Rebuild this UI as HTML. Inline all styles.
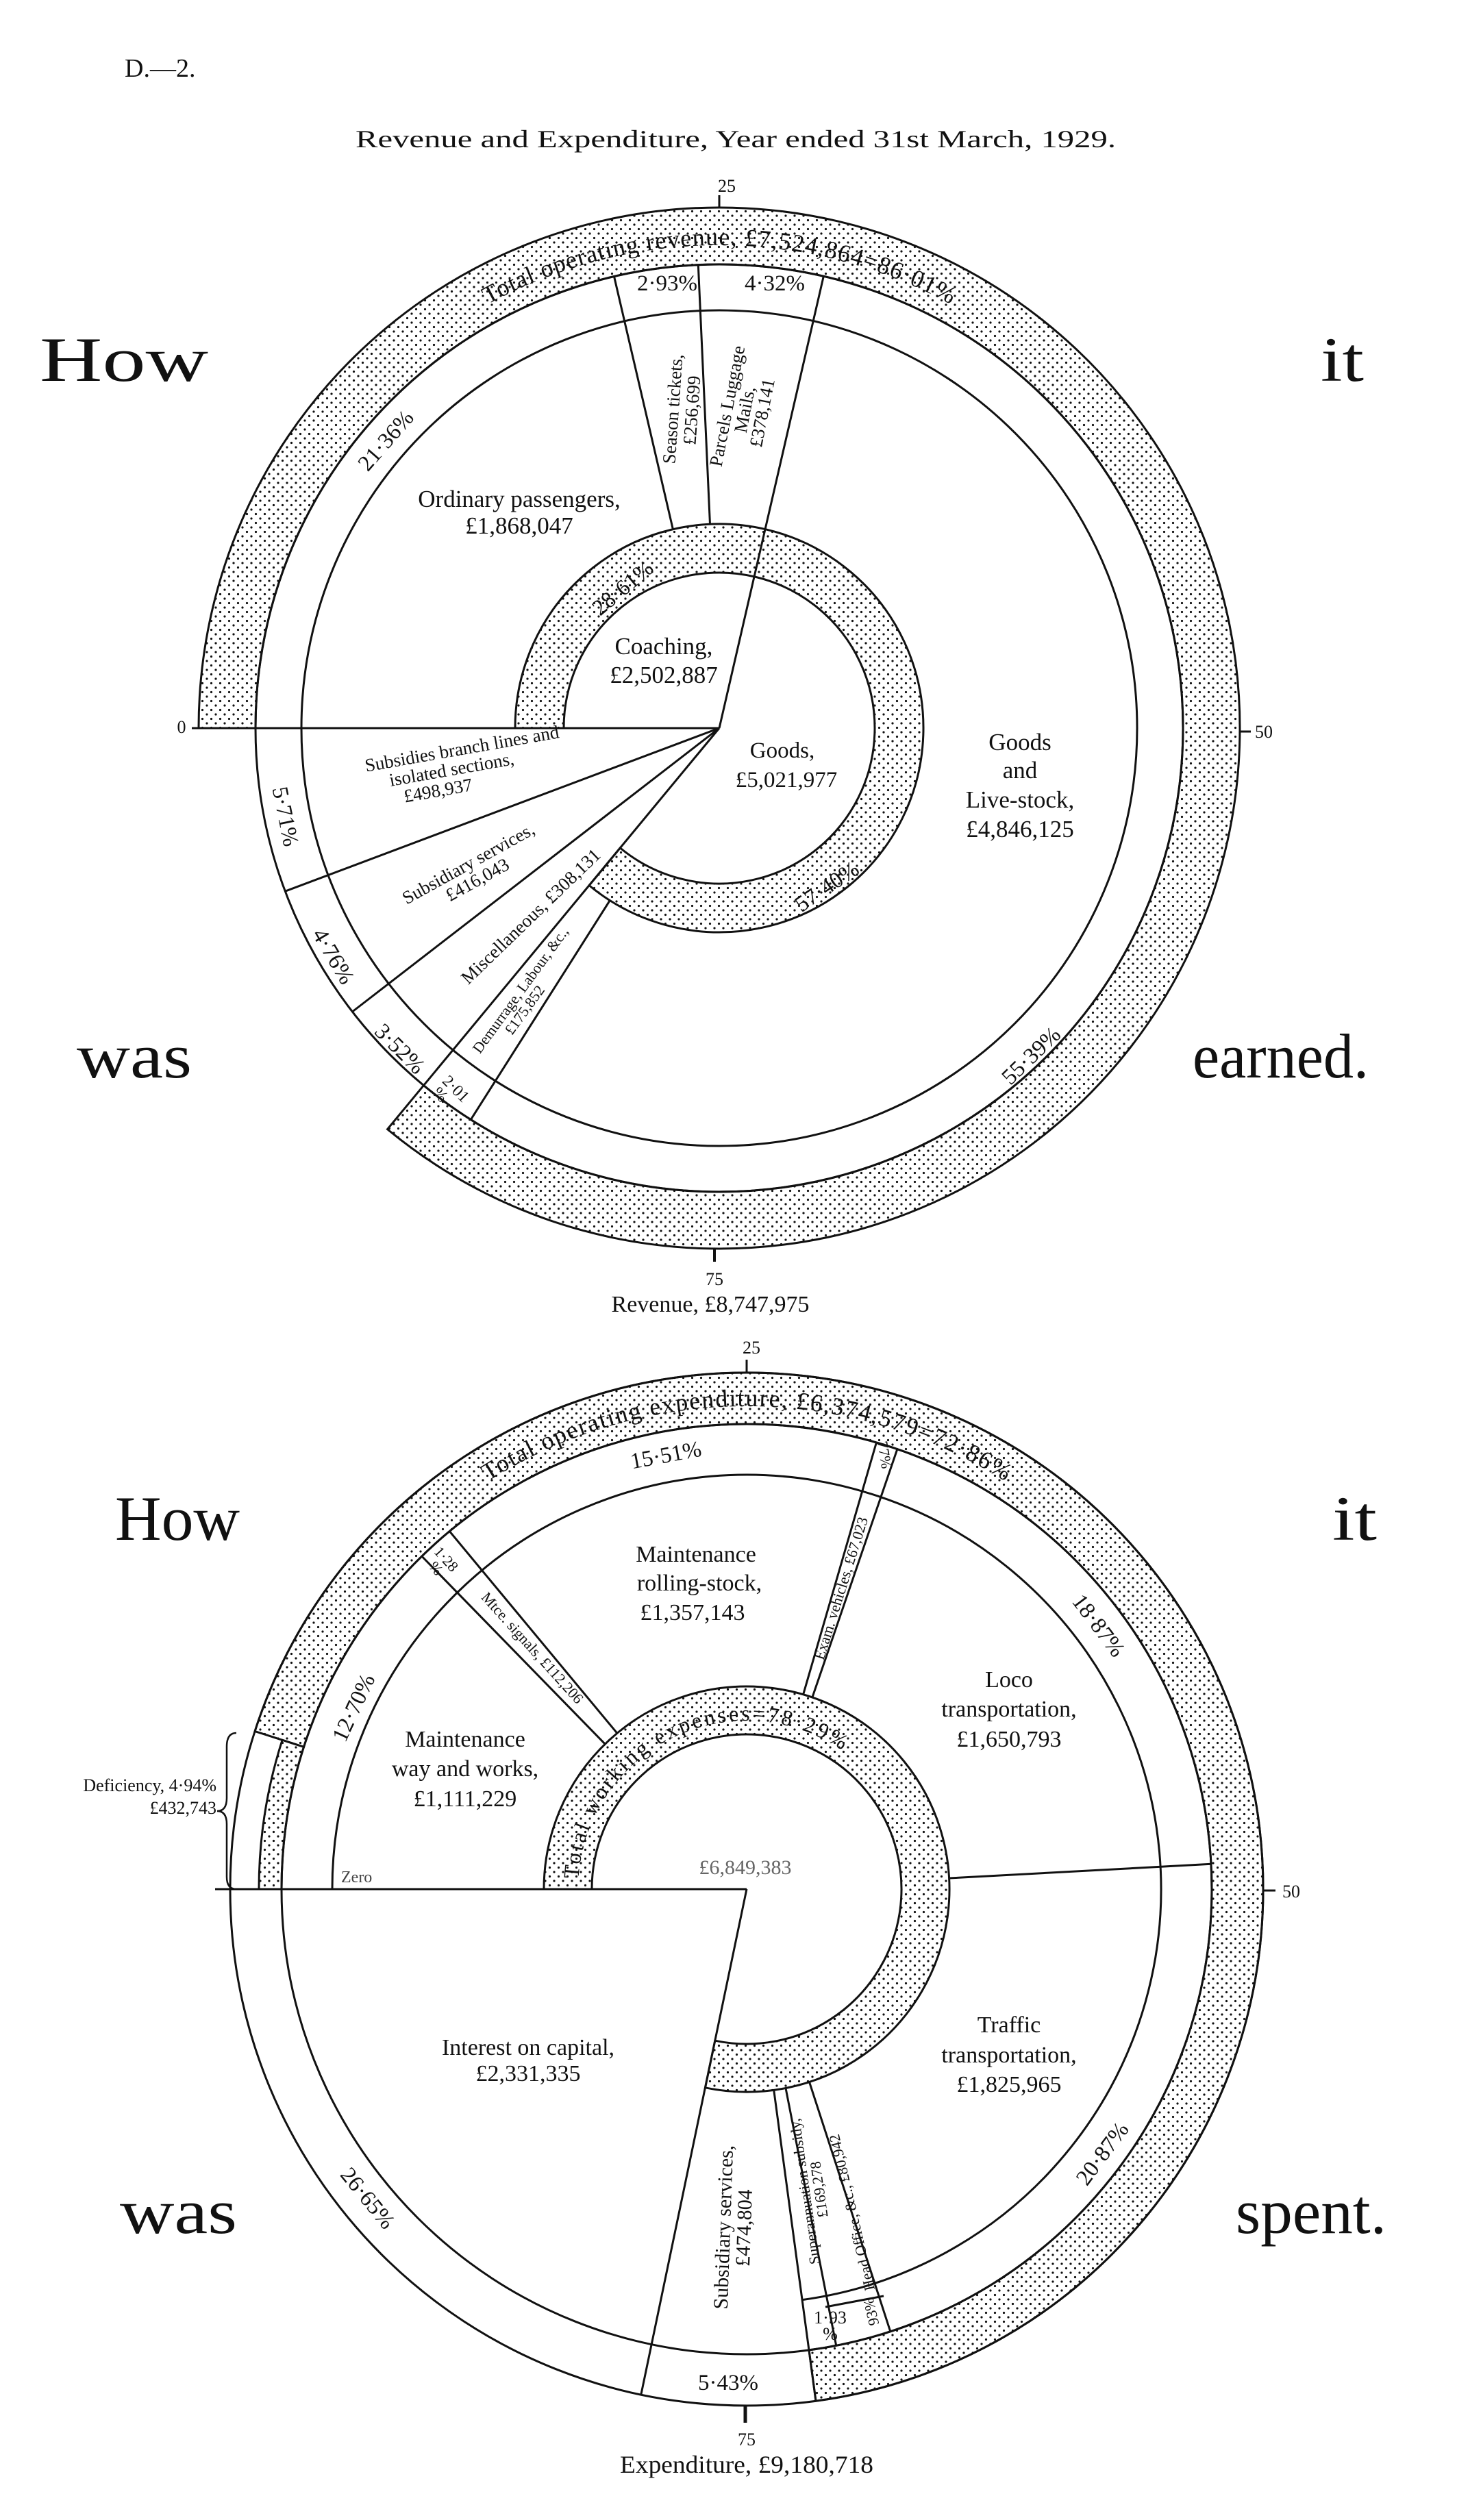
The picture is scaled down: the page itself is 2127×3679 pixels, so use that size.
<!DOCTYPE html>
<html><head><meta charset="utf-8"><style>
html,body{margin:0;padding:0;background:#fff;}
svg{display:block;}
text{font-family:"Liberation Serif",serif;fill:#111;}
</style></head><body>
<svg width="2127" height="3679" viewBox="0 0 2127 3679" xmlns="http://www.w3.org/2000/svg">
<defs>
<pattern id="dots" width="13" height="13" patternUnits="userSpaceOnUse">
<rect width="13" height="13" fill="#fff"/>
<circle cx="3" cy="3" r="1.6" fill="#111"/>
<circle cx="9.5" cy="9.5" r="1.6" fill="#111"/>
</pattern>
<path id="tp1" d="M387.5,821.9 A705,705 0 0 1 1712.5,821.9"/>
<path id="tp2" d="M427.5,2516.9 A705,705 0 0 1 1752.5,2516.9"/>
<path id="tp3" d="M853.5,2825.8 A246,246 0 0 1 1289,2613.4"/>
</defs>
<rect width="2127" height="3679" fill="#fff"/>

<text x="182" y="112" font-size="38">D.—2.</text>
<text x="519" y="215" font-size="36" textLength="1110" lengthAdjust="spacingAndGlyphs">Revenue and Expenditure, Year ended 31st March, 1929.</text>

<!-- big words -->
<g font-size="92">
<text x="58" y="556" textLength="246" lengthAdjust="spacingAndGlyphs">How</text>
<text x="1928" y="556" textLength="63" lengthAdjust="spacingAndGlyphs">it</text>
<text x="112" y="1573" textLength="168" lengthAdjust="spacingAndGlyphs">was</text>
<text x="1741" y="1573" textLength="257" lengthAdjust="spacingAndGlyphs">earned.</text>
<text x="168" y="2248" textLength="182" lengthAdjust="spacingAndGlyphs">How</text>
<text x="1945" y="2248" textLength="65" lengthAdjust="spacingAndGlyphs">it</text>
<text x="175" y="3260" textLength="171" lengthAdjust="spacingAndGlyphs">was</text>
<text x="1804" y="3260" textLength="220" lengthAdjust="spacingAndGlyphs">spent.</text>
</g>

<!-- ================= TOP CHART ================= -->
<g stroke="#111" stroke-width="3" fill="none">
<path d="M290,1063 A760,760 0 1 1 565.6,1648.6 L618.5,1584.6 A677,677 0 1 0 373,1063 Z" fill="url(#dots)"/>
<path d="M752,1063 A298,298 0 1 1 860.1,1292.6 L905.3,1237.9 A227,227 0 1 0 823,1063 Z" fill="url(#dots)"/>
<circle cx="1050" cy="1063" r="677"/>
<circle cx="1050" cy="1063" r="610"/>
<line x1="280" y1="1063" x2="1050" y2="1063"/>
<line x1="1050" y1="1063" x2="416.3" y2="1301.2"/>
<line x1="1050" y1="1063" x2="514.4" y2="1477"/>
<line x1="1050" y1="1063" x2="618.5" y2="1584.6"/>
<line x1="890.3" y1="1314.6" x2="687.3" y2="1634.6"/>
<line x1="982.4" y1="772.7" x2="896.5" y2="403.6"/>
<line x1="1036.5" y1="765.3" x2="1019.3" y2="386.7"/>
<line x1="1050" y1="1063" x2="1202.3" y2="403.3"/>
<line x1="1050" y1="285" x2="1050" y2="303"/>
<line x1="1810" y1="1068" x2="1826" y2="1068"/>
<line x1="1043" y1="1823" x2="1043" y2="1842" stroke-width="4"/>
</g>
<text font-size="36"><textPath href="#tp1" startOffset="50%" text-anchor="middle" textLength="705" lengthAdjust="spacing">Total operating revenue, £7,524,864=86·01%</textPath></text>
<g font-size="26" text-anchor="middle">
<text x="1061" y="280">25</text>
<text x="265" y="1070">0</text>
<text x="1845" y="1077">50</text>
<text x="1043" y="1876">75</text>
</g>
<text x="1037" y="1915" font-size="34" text-anchor="middle">Revenue, £8,747,975</text>

<g font-size="33" text-anchor="middle">
<text x="974" y="424">2·93%</text>
<text x="1131" y="424">4·32%</text>
<text transform="translate(563,643) rotate(-49)" y="11">21·36%</text>
<text x="758" y="740" font-size="35">Ordinary passengers,</text>
<text x="758" y="779" font-size="35">£1,868,047</text>
<text transform="translate(909,858) rotate(-40)" y="11">28·61%</text>
<text x="969" y="955" font-size="35">Coaching,</text>
<text x="969" y="997" font-size="35">£2,502,887</text>
<text x="1142" y="1106">Goods,</text>
<text x="1148" y="1149">£5,021,977</text>
<text x="1489" y="1095" font-size="35">Goods</text>
<text x="1489" y="1136" font-size="35">and</text>
<text x="1489" y="1179" font-size="35">Live-stock,</text>
<text x="1489" y="1222" font-size="35">£4,846,125</text>
<text transform="translate(1207,1294) rotate(-34)" y="11">57·40%</text>
<text transform="translate(1505,1541) rotate(-44)" y="11">55·39%</text>
<text transform="translate(417,1192) rotate(78.5)" y="11">5·71%</text>
<text transform="translate(487,1396) rotate(59.4)" y="11">4·76%</text>
<text transform="translate(584,1531) rotate(45)" y="11">3·52%</text>
</g>
<g font-size="27" text-anchor="middle">
<text transform="translate(996,598) rotate(-86)"><tspan x="0" y="-5">Season tickets,</tspan><tspan x="0" y="23">£256,699</tspan></text>
<text transform="translate(1088,598) rotate(-79)"><tspan x="0" y="-18">Parcels Luggage</tspan><tspan x="0" y="8">Mails,</tspan><tspan x="0" y="34">£378,141</tspan></text>
<text transform="translate(660,1127) rotate(-10)"><tspan x="20" y="-22">Subsidies branch lines and</tspan><tspan x="0" y="5">isolated sections,</tspan><tspan x="-25" y="32">£498,937</tspan></text>
<text transform="translate(690,1272) rotate(-29)"><tspan x="0" y="-4">Subsidiary services,</tspan><tspan x="0" y="23">£416,043</tspan></text>
<text transform="translate(774,1337) rotate(-44)" y="10">Miscellaneous, £308,131</text>
<text transform="translate(769,1452) rotate(-54)" font-size="22"><tspan x="0" y="-4">Demurrage, Labour, &amp;c.,</tspan><tspan x="-20" y="18">£175,852</tspan></text>
<text transform="translate(660,1595) rotate(45)" font-size="24"><tspan x="0" y="0">2·01</tspan><tspan x="-10" y="22">%</tspan></text>
</g>

<!-- ================= BOTTOM CHART ================= -->
<g stroke="#111" stroke-width="3" fill="none">
<path d="M372.1,2527.5 A754,754 0 1 1 1191,3505.2 L1181,3430.9 A679,679 0 1 0 443.5,2550.4 Z" fill="url(#dots)"/>
<path d="M378,2758 A712,712 0 0 1 412.1,2540.3 L443.5,2550.4 A679,679 0 0 0 411,2758 Z" fill="url(#dots)"/>
<path d="M794,2758 A296,296 0 1 1 1029.5,3047.8 L1043.8,2979.2 A226,226 0 1 0 864,2758 Z" fill="url(#dots)"/>
<circle cx="1090" cy="2758" r="754"/>
<circle cx="1090" cy="2758" r="679"/>
<path d="M485,2758 A605,605 0 1 1 1171.1,3357.6"/>
<line x1="314" y1="2758" x2="1090" y2="2758"/>
<line x1="1090" y1="2758" x2="935.8" y2="3496.1"/>
<line x1="883.3" y1="2546.2" x2="615.8" y2="2272"/>
<line x1="900.9" y1="2530.3" x2="656.3" y2="2235.6"/>
<line x1="1172.6" y1="2473.8" x2="1279.4" y2="2106"/>
<line x1="1185.9" y1="2477.9" x2="1309.9" y2="2115.6"/>
<line x1="1385.6" y1="2742" x2="1768" y2="2721.3"/>
<line x1="1181.5" y1="3039.5" x2="1299.8" y2="3403.8"/>
<line x1="1147" y1="3048.5" x2="1220.7" y2="3424.3"/>
<line x1="1129.7" y1="3051.3" x2="1191" y2="3505.2"/>
<line x1="1205" y1="3368" x2="1290" y2="3352"/>
<line x1="1090" y1="1985" x2="1090" y2="2004"/>
<line x1="1844" y1="2760" x2="1862" y2="2760"/>
<line x1="1088" y1="3512" x2="1088" y2="3537" stroke-width="5"/>
<path d="M345,2530 Q331,2530 331,2550 L331,2625 Q331,2644 317,2644 Q331,2644 331,2663 L331,2740 Q331,2758 345,2758" stroke-width="2.5"/>
</g>
<text font-size="36"><textPath href="#tp2" startOffset="50%" text-anchor="middle" textLength="797" lengthAdjust="spacing">Total operating expenditure, £6,374,579=72·86%</textPath></text>
<text font-size="32"><textPath href="#tp3" startOffset="50%" text-anchor="middle" textLength="520" lengthAdjust="spacing">Total working expenses=78·29%</textPath></text>
<g font-size="26" text-anchor="middle">
<text x="1097" y="1976">25</text>
<text x="1885" y="2770">50</text>
<text x="1090" y="3570">75</text>
</g>
<text x="1090" y="3610" font-size="36" text-anchor="middle" textLength="370" lengthAdjust="spacingAndGlyphs">Expenditure, £9,180,718</text>
<g font-size="26" text-anchor="end">
<text x="316" y="2615">Deficiency, 4·94%</text>
<text x="316" y="2648">£432,743</text>
</g>
<text x="1088" y="2736" font-size="30" text-anchor="middle" fill="#666" style="fill:#666">£6,849,383</text>
<text x="498" y="2748" font-size="24" fill="#333" style="fill:#444">Zero</text>

<g font-size="33" text-anchor="middle">
<text transform="translate(972,2124) rotate(-10.5)" y="11">15·51%</text>
<text transform="translate(516,2493) rotate(-65)" y="11">12·70%</text>
<text transform="translate(1604,2373) rotate(53)" y="11">18·87%</text>
<text transform="translate(1609,3144) rotate(-53.4)" y="11">20·87%</text>
<text transform="translate(537,3209) rotate(50.8)" y="11">26·65%</text>
<text x="1063" y="3489">5·43%</text>
<text x="1016" y="2280" font-size="34">Maintenance</text>
<text x="1021" y="2322" font-size="34">rolling-stock,</text>
<text x="1011" y="2365" font-size="34">£1,357,143</text>
<text x="679" y="2550" font-size="34">Maintenance</text>
<text x="679" y="2593" font-size="34">way and works,</text>
<text x="679" y="2637" font-size="34">£1,111,229</text>
<text x="1473" y="2463" font-size="34">Loco</text>
<text x="1473" y="2506" font-size="34">transportation,</text>
<text x="1473" y="2550" font-size="34">£1,650,793</text>
<text x="771" y="3000" font-size="34">Interest on capital,</text>
<text x="771" y="3038" font-size="34">£2,331,335</text>
<text x="1473" y="2967" font-size="34">Traffic</text>
<text x="1473" y="3011" font-size="34">transportation,</text>
<text x="1473" y="3054" font-size="34">£1,825,965</text>
</g>
<g font-size="22" text-anchor="middle">
<text transform="translate(646,2281) rotate(48)"><tspan x="0" y="0">1·28</tspan><tspan x="0" y="20">%</tspan></text>
<text transform="translate(777,2406) rotate(48)" y="7">Mtce. signals, £112,206</text>
<text transform="translate(1228,2319) rotate(-72.5)" y="7">Exam. vehicles, £67,023</text>
<text transform="translate(1291,2124) rotate(80)" y="7">77%</text>
<text transform="translate(1185,3198) rotate(-98)"><tspan x="0" y="-3">Superannuation subsidy,</tspan><tspan x="0" y="18">£169,278</tspan></text>
<text transform="translate(1244,3230) rotate(-103)" y="7">Head Office, &amp;c., £80,942</text>
<text transform="translate(1272,3375) rotate(-103)" y="7">93%</text>
<text x="1212" y="3392" font-size="26">1·93</text>
<text x="1212" y="3416" font-size="26">%</text>
<text transform="translate(1070,3252) rotate(-88)" font-size="30"><tspan x="0" y="-4">Subsidiary services,</tspan><tspan x="0" y="26">£474,804</tspan></text>
</g>
</svg>
</body></html>
